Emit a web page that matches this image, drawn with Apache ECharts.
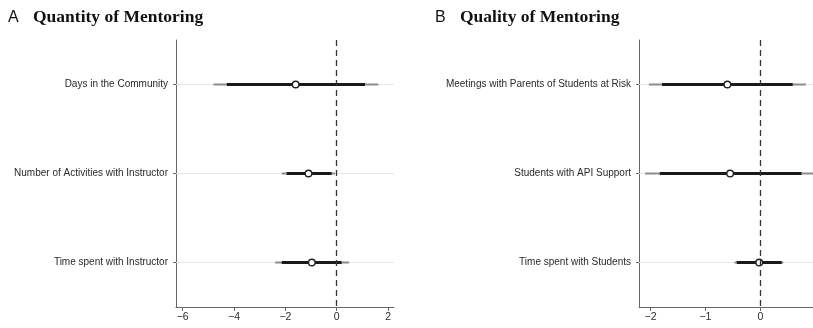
<!DOCTYPE html>
<html><head><meta charset="utf-8">
<script src="https://cdn.jsdelivr.net/npm/echarts@6/dist/echarts.min.js"></script>
<style>html,body{margin:0;padding:0;background:#fff}#c{width:813px;height:328px}</style>
</head><body><div id="c"></div>
<script>
// Panel A: Quantity of Mentoring
const catsA = ['Days in the Community', 'Number of Activities with Instructor', 'Time spent with Instructor'];
const estA  = [-1.6, -1.1, -0.97];
const lo90A = [-4.28, -1.95, -2.14];
const hi90A = [1.10, -0.2, 0.19];
const lo95A = [-4.8, -2.14, -2.4];
const hi95A = [1.62, -0.07, 0.48];
const ticksA = [-6, -4, -2, 0, 2];

// Panel B: Quality of Mentoring
const catsB = ['Meetings with Parents of Students at Risk', 'Students with API Support', 'Time spent with Students'];
const estB  = [-0.6, -0.55, -0.02];
const lo90B = [-1.79, -1.83, -0.43];
const hi90B = [0.59, 0.75, 0.39];
const lo95B = [-2.03, -2.1, -0.47];
const hi95B = [0.83, 1.05, 0.42];
const ticksB = [-2, -1, 0];

function rows(cats, est, lo90, hi90, lo95, hi95) {
  return cats.map((c, i) => [i, lo95[i], hi95[i], lo90[i], hi90[i], est[i]]);
}

function renderItem(params, api) {
  const y = api.value(0);
  const p95a = api.coord([api.value(1), y]);
  const p95b = api.coord([api.value(2), y]);
  const p90a = api.coord([api.value(3), y]);
  const p90b = api.coord([api.value(4), y]);
  const pe = api.coord([api.value(5), y]);
  return {
    type: 'group',
    children: [
      {type: 'line', shape: {x1: p95a[0], y1: p95a[1], x2: p95b[0], y2: p95b[1]}, style: {stroke: '#8c8c8c', lineWidth: 2}},
      {type: 'line', shape: {x1: p90a[0], y1: p90a[1], x2: p90b[0], y2: p90b[1]}, style: {stroke: '#1a1a1a', lineWidth: 3}},
      {type: 'circle', shape: {cx: pe[0], cy: pe[1], r: 3.3}, style: {fill: '#fff', stroke: '#222', lineWidth: 1.4}}
    ]
  };
}

const minus = v => String(v).replace('-', '\u2212');
const sans = '"Liberation Sans", Arial, sans-serif';

function xAxis(idx, min, max, ticks) {
  return {
    type: 'value', gridIndex: idx, min: min, max: max,
    splitLine: {show: false},
    axisLine: {show: true, lineStyle: {color: '#666', width: 1}},
    axisTick: {show: true, length: 4, customValues: ticks, lineStyle: {color: '#666'}},
    axisLabel: {customValues: ticks, formatter: minus, color: '#2a2a2a', fontSize: 10.5, fontFamily: sans, margin: 5}
  };
}
function yAxis(idx, cats) {
  return {
    type: 'category', gridIndex: idx, data: cats, inverse: true,
    axisLine: {show: true, onZero: false, lineStyle: {color: '#666', width: 1}},
    axisTick: {show: true, alignWithLabel: true, length: 3, lineStyle: {color: '#666'}},
    axisLabel: {color: '#2a2a2a', fontSize: 10, fontFamily: sans, margin: 8},
    splitLine: {show: false}
  };
}

const chart = echarts.init(document.getElementById('c'), null, {renderer: 'canvas'});
const dashLine = {
  silent: true, symbol: ['none', 'none'], label: {show: false},
  lineStyle: {color: '#333', type: [6, 4], width: 1.3},
  data: [{xAxis: 0}]
};
function gridLines(cats, xi) {
  return {
    type: 'custom', xAxisIndex: xi, yAxisIndex: xi, silent: true, z: 1,
    data: cats.map((c, i) => [i]),
    encode: {y: 0},
    renderItem: function (params, api) {
      const cs = params.coordSys;
      const y = api.coord([0, api.value(0)])[1];
      return {type: 'line', shape: {x1: cs.x, y1: y, x2: cs.x + cs.width, y2: y}, style: {stroke: '#e6e6e6', lineWidth: 1}};
    }
  };
}

chart.setOption({
  animation: false,
  backgroundColor: '#fff',
  title: [
    {text: 'A', left: 8, top: 10, padding: 0, textStyle: {fontFamily: sans, fontWeight: 'normal', fontSize: 16, color: '#111'}},
    {text: 'Quantity of Mentoring', left: 33, top: 8, padding: 0, textStyle: {fontFamily: '"Liberation Serif", serif', fontWeight: 'bold', fontSize: 17.5, color: '#111'}},
    {text: 'B', left: 435, top: 10, padding: 0, textStyle: {fontFamily: sans, fontWeight: 'normal', fontSize: 16, color: '#111'}},
    {text: 'Quality of Mentoring', left: 460, top: 8, padding: 0, textStyle: {fontFamily: '"Liberation Serif", serif', fontWeight: 'bold', fontSize: 17.5, color: '#111'}}
  ],
  grid: [
    {left: 176, top: 40, width: 218, height: 267},
    {left: 639, top: 40, width: 174, height: 267}
  ],
  xAxis: [xAxis(0, -6.26, 2.23, ticksA), xAxis(1, -2.21, 0.96, ticksB)],
  yAxis: [yAxis(0, catsA), yAxis(1, catsB)],
  series: [
    gridLines(catsA, 0),
    gridLines(catsB, 1),
    {type: 'custom', xAxisIndex: 0, yAxisIndex: 0, z: 3, renderItem: renderItem,
     encode: {x: [1, 2, 3, 4, 5], y: 0}, data: rows(catsA, estA, lo90A, hi90A, lo95A, hi95A), markLine: dashLine},
    {type: 'custom', xAxisIndex: 1, yAxisIndex: 1, z: 3, renderItem: renderItem, clip: true,
     encode: {x: [1, 2, 3, 4, 5], y: 0}, data: rows(catsB, estB, lo90B, hi90B, lo95B, hi95B), markLine: dashLine}
  ]
});
</script></body></html>
